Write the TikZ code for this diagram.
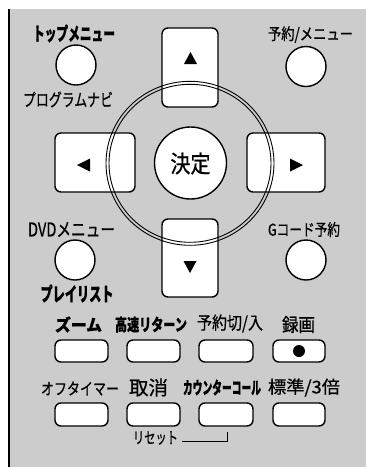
\documentclass[tikz,border=0pt]{standalone}
\usepackage{fontspec}
\usepackage{graphicx}
\newfontfamily\jpfont[FakeBold=0.7]{Noto Sans CJK JP}
\definecolor{panel}{RGB}{204,204,204}
\newcommand\jlab[4]{\resizebox*{#1pt}{#2pt}{\jpfont#3\fontsize{20pt}{20pt}\selectfont #4}}
\begin{document}
\begin{tikzpicture}[x=1pt,y=-1pt,
  key/.style={draw,line width=1.4pt,fill=white,rounded corners=6pt,inner sep=0pt},
  rbtn/.style={draw,line width=1.4pt,fill=white,circle,inner sep=0pt,minimum size=40pt},
  lbl/.style={inner sep=0pt,anchor=center},
  ringline/.style={line width=0.9pt}]
\useasboundingbox (0,0) rectangle (366,467);
\fill[white] (0,0) rectangle (366,467);
\fill[panel] (9.3,9.3) rectangle (366,467);
\draw[line width=2pt] (9.3,9.3) -- (9.3,467);

% direction keys
\node[key,minimum width=56pt,minimum height=79pt] (up) at (190,67.5) {};
\node[key,minimum width=80pt,minimum height=59pt] (left) at (95,162.5) {};
\node[key,minimum width=78pt,minimum height=59pt] (right) at (286,162.5) {};
\node[key,minimum width=56pt,minimum height=78pt] (down) at (190,258) {};
% enter
\node[rbtn,minimum size=72pt] (ok) at (190.5,163) {};
\node[lbl] (okl) at (190.5,163.5) {\jlab{40}{22}{\mdseries}{決定}};
% ring
\draw[ringline] (190,163.3) ellipse [x radius=84, y radius=82];
\draw[ringline] (190,163.3) ellipse [x radius=81, y radius=79];
% triangles
\fill (184,64) -- (197,64) -- (190.5,52) -- cycle;
\fill (77,165) -- (90,158.5) -- (90,171.5) -- cycle;
\fill (303,165) -- (290,158.5) -- (290,171.5) -- cycle;
\fill (190,273) -- (183.5,261) -- (196.5,261) -- cycle;

% round buttons
\node[rbtn] (btop) at (76,65) {};
\node[rbtn] (bres) at (306,66.5) {};
\node[rbtn] (bdvd) at (75,260) {};
\node[rbtn] (bg) at (306,260) {};

\node[lbl] (ltop) at (74,33.5) {\jlab{82}{18}{\bfseries}{トップメニュー}};
\node[lbl] (lprog) at (68,99.5) {\jlab{90}{16}{\mdseries}{プログラムナビ}};
\node[lbl] (lres) at (310.5,34.5) {\jlab{85}{16.5}{\mdseries}{予約/メニュー}};
\node[lbl] (ldvd) at (71.5,229.5) {\jlab{87}{15}{\mdseries}{DVDメニュー}};
\node[lbl] (lplay) at (77,293.5) {\jlab{73}{18}{\bfseries}{プレイリスト}};
\node[lbl] (lg) at (304,229.5) {\jlab{72}{15}{\mdseries}{Gコード予約}};

% row 1
\node[key,minimum width=53pt,minimum height=22pt] (k1) at (81.5,351) {};
\node[key,minimum width=53pt,minimum height=22pt] (k2) at (153.5,351) {};
\node[key,minimum width=54pt,minimum height=22pt] (k3) at (226,351) {};
\node[key,minimum width=52pt,minimum height=22pt] (k4) at (299,351) {};
\fill (299,351) circle [radius=6];
\node[lbl] (l1) at (78.5,324.5) {\jlab{47}{16}{\bfseries}{ズーム}};
\node[lbl] (l2) at (151,324.5) {\jlab{72}{16}{\bfseries}{高速リターン}};
\node[lbl] (l3) at (230,323.5) {\jlab{66}{18}{\mdseries}{予約切/入}};
\node[lbl] (l4) at (298.5,324.5) {\jlab{33}{17}{\mdseries}{録画}};

% row 2
\node[key,minimum width=53pt,minimum height=23pt] (m1) at (81.5,414.5) {};
\node[key,minimum width=53pt,minimum height=23pt] (m2) at (153.5,414.5) {};
\node[key,minimum width=54pt,minimum height=23pt] (m3) at (226,414.5) {};
\node[key,minimum width=52pt,minimum height=23pt] (m4) at (299,414.5) {};
\node[lbl] (n1) at (80,388.5) {\jlab{78}{14}{\mdseries}{オフタイマー}};
\node[lbl] (n2) at (148.5,387.5) {\jlab{39}{18}{\mdseries}{取消}};
\node[lbl] (n3) at (222,387.5) {\jlab{78}{16}{\bfseries}{カウンターコール}};
\node[lbl] (n4) at (304,387.5) {\jlab{72}{18}{\mdseries}{標準/3倍}};

% reset
\node[lbl] (rs) at (155.5,438) {\jlab{45}{13.5}{\mdseries}{リセット}};
\coordinate (rsa) at (182,441);
\coordinate (rsb) at (227,441);
\coordinate (rsc) at (227,432);
\draw[line width=1pt] (rsa) -- (rsb) -- (rsc);
\end{tikzpicture}
\end{document}
